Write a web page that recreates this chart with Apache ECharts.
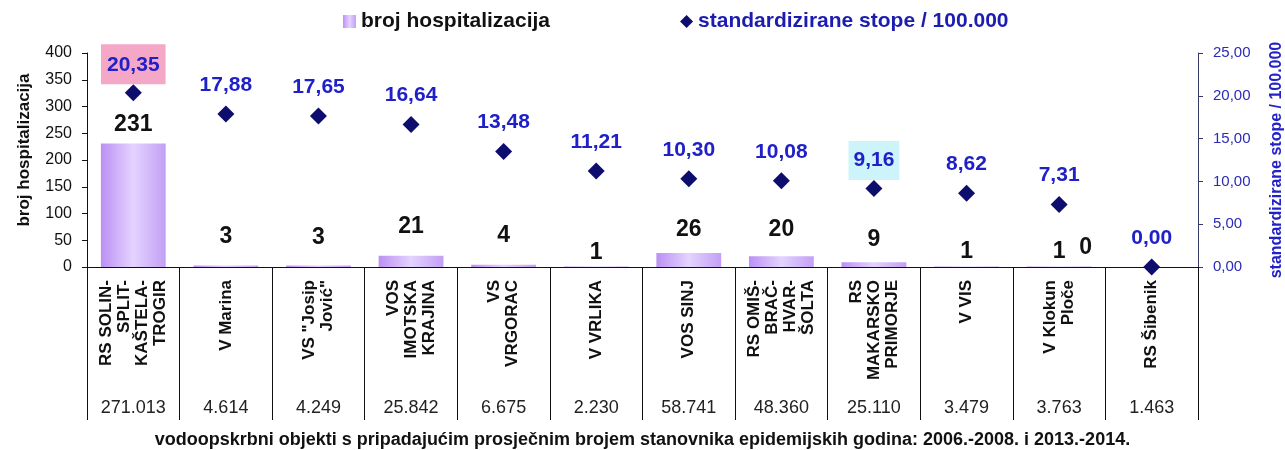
<!DOCTYPE html>
<html>
<head>
<meta charset="utf-8">
<script src="https://cdn.jsdelivr.net/npm/echarts@6/dist/echarts.min.js"></script>
<style>
  html, body { margin: 0; padding: 0; background: #fff; }
  #chart { width: 1285px; height: 450px; }
</style>
</head>
<body>
<div id="chart"></div>
<script>
// vodoopskrbni objekti
const categories = [
  'RS SOLIN-\nSPLIT-\nKAŠTELA-\nTROGIR', 'V Marina', 'VS "Josip\nJović"',
  'VOS\nIMOTSKA\nKRAJINA', 'VS\nVRGORAC', 'V VRLIKA', 'VOS SINJ',
  'RS OMIŠ-\nBRAČ-\nHVAR-\nŠOLTA', 'RS\nMAKARSKO\nPRIMORJE', 'V VIS',
  'V Klokun\nPloče', 'RS Šibenik'
];
const hospitalizations = [231, 3, 3, 21, 4, 1, 26, 20, 9, 1, 1, 0];
const rates = [20.35, 17.88, 17.65, 16.64, 13.48, 11.21, 10.30, 10.08, 9.16, 8.62, 7.31, 0.00];
const population = ['271.013', '4.614', '4.249', '25.842', '6.675', '2.230',
  '58.741', '48.360', '25.110', '3.479', '3.763', '1.463'];
const leftTicks = [0, 400, 50];
const rightTicks = [0, 25, 5];

const FONT = 'Arial, "Liberation Sans", sans-serif';
const fmt = v => v.toFixed(2).replace('.', ',');

// razmak natpisa iznad stupca (u izvorniku rucno pomaknuti)
const barLabelGap = [7, 17, 16, 18, 18, 2, 12, 15, 11, 3, 3, 8];
// natpis "0" zadnjeg stupca je pomaknut ulijevo
const barLabelShift = { 11: [-66, 0] };
// istaknuti natpisi stopa
const rateBoxes = {
  0: { color: '#f5a7c7', padding: [10, 6, 9, 6] },
  8: { color: '#cdf4fb', padding: [9, 5, 9, 5] }
};

const barColor = new echarts.graphic.LinearGradient(0, 0, 1, 0, [
  { offset: 0, color: '#bb90f3' },
  { offset: 0.5, color: '#e4d3ff' },
  { offset: 1, color: '#c39ff5' }
]);

const barData = hospitalizations.map((v, i) => ({
  value: v,
  label: { distance: barLabelGap[i], offset: barLabelShift[i] || [0, 0] }
}));

const rateData = rates.map((v, i) => {
  const box = rateBoxes[i];
  if (!box) return v;
  return {
    value: v,
    label: { backgroundColor: box.color, padding: box.padding, distance: 0 }
  };
});

const myChart = echarts.init(document.getElementById('chart'));

const option = {
  animation: false,
  textStyle: { fontFamily: FONT },
  title: {
    text: 'vodoopskrbni objekti s pripadajućim prosječnim brojem stanovnika epidemijskih godina: 2006.-2008. i 2013.-2014.',
    left: 'center',
    top: 431,
    padding: 0,
    textStyle: { fontFamily: FONT, fontSize: 18, fontWeight: 'bold', color: '#111' }
  },
  legend: {
    top: 11,
    left: 343,
    padding: 0,
    itemGap: 130,
    itemWidth: 13,
    itemHeight: 13,
    textStyle: { fontFamily: FONT, fontSize: 21, fontWeight: 'bold' },
    data: [
      { name: 'broj hospitalizacija', icon: 'rect', textStyle: { color: '#111' } },
      { name: 'standardizirane stope / 100.000', icon: 'diamond', textStyle: { color: '#1c1cb0' } }
    ]
  },
  grid: { left: 87, right: 87, top: 53, bottom: 183, outerBoundsMode: 'none', containLabel: false },
  xAxis: [
    {
      type: 'category',
      data: categories,
      boundaryGap: true,
      axisLine: { lineStyle: { color: '#111', width: 1 } },
      axisTick: { show: true, interval: 0, length: 153, lineStyle: { color: '#111' } },
      axisLabel: {
        interval: 0,
        rotate: 90,
        margin: 13,
        fontFamily: FONT,
        fontSize: 17,
        fontWeight: 'bold',
        lineHeight: 18,
        color: '#111'
      }
    },
    {
      type: 'category',
      data: population,
      position: 'bottom',
      offset: 127,
      axisLine: { show: false },
      axisTick: { show: false },
      axisLabel: { interval: 0, margin: 5, fontFamily: FONT, fontSize: 18, color: '#222' }
    }
  ],
  yAxis: [
    {
      type: 'value',
      min: leftTicks[0],
      max: leftTicks[1],
      interval: leftTicks[2],
      name: 'broj hospitalizacija',
      nameLocation: 'middle',
      nameRotate: 90,
      nameGap: 54,
      nameTextStyle: { fontFamily: FONT, fontSize: 17, fontWeight: 'bold', color: '#111', padding: [0, 0, 0, 20] },
      axisLine: { show: true, lineStyle: { color: '#111' } },
      axisTick: { show: true, length: 5, lineStyle: { color: '#111' } },
      axisLabel: { fontFamily: FONT, fontSize: 16, color: '#111', margin: 15 },
      splitLine: { show: false }
    },
    {
      type: 'value',
      min: rightTicks[0],
      max: rightTicks[1],
      interval: rightTicks[2],
      position: 'right',
      name: 'standardizirane stope / 100.000',
      nameLocation: 'middle',
      nameRotate: 90,
      nameGap: 71,
      nameTextStyle: { fontFamily: FONT, fontSize: 16, fontWeight: 'bold', color: '#2222c8' },
      axisLine: { show: true, lineStyle: { color: '#3a3a6a' } },
      axisTick: { show: true, length: 5, lineStyle: { color: '#3a3a6a' } },
      axisLabel: { fontFamily: FONT, fontSize: 15, color: '#2a2ab8', margin: 15, formatter: v => fmt(v) },
      splitLine: { show: false }
    }
  ],
  series: [
    {
      name: 'broj hospitalizacija',
      type: 'bar',
      data: barData,
      barWidth: '70%',
      itemStyle: { color: barColor },
      label: {
        show: true,
        position: 'top',
        fontFamily: FONT,
        fontSize: 23,
        fontWeight: 'bold',
        color: '#111'
      }
    },
    {
      name: 'standardizirane stope / 100.000',
      type: 'scatter',
      yAxisIndex: 1,
      data: rateData,
      symbol: 'diamond',
      symbolSize: 17,
      itemStyle: { color: '#0d0d6e', opacity: 1 },
      label: {
        show: true,
        position: 'top',
        distance: 10,
        fontFamily: FONT,
        fontSize: 21,
        fontWeight: 'bold',
        color: '#2020c8',
        formatter: p => fmt(p.value)
      }
    }
  ]
};

myChart.setOption(option);
</script>
</body>
</html>
